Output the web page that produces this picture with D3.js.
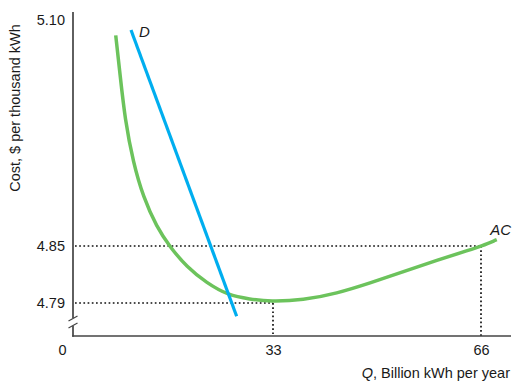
<!DOCTYPE html>
<html>
<head>
<meta charset="utf-8">
<script src="https://cdn.jsdelivr.net/npm/d3@7"></script>
<style>
  html, body { margin: 0; padding: 0; background: #fff; }
  svg { display: block; }
  text { font-family: "Liberation Sans", Arial, Helvetica, sans-serif; fill: #1a1a1a; }
</style>
</head>
<body>
<svg id="chart" width="523" height="391"></svg>
<script>
// ---- data ----
const yTicks = [4.79, 4.85, 5.10];
const yTickLabels = ["4.79", "4.85", "5.10"];
const xTicks = [0, 33, 66];
const xTickLabels = ["0", "33", "66"];

// Average cost curve AC (Q in billion kWh, cost in $ per thousand kWh)
const acQ    = [7.05, 7.76, 8.58, 9.95, 11.6, 13.81, 16.0, 18.76, 22.06, 25.62, 29.2, 32.5, 37.8, 43.1, 48.4, 53.7, 59.0, 64.25, 66.1, 68.5];
const acCost = [5.083, 5.040, 4.990, 4.942, 4.904, 4.871, 4.849, 4.828, 4.811, 4.798, 4.794, 4.7915, 4.793, 4.80, 4.811, 4.823, 4.835, 4.846, 4.85, 4.857];

// Demand curve D
const dQ    = [9.57, 27.0];
const dCost = [5.089, 4.776];

// reference lines
const minAC = { q: 33, cost: 4.79 };
const endAC = { q: 66, cost: 4.85 };

// ---- layout ----
const svg = d3.select("#chart");
const axisX0 = 73, axisYBottom = 336, axisYTop = 12, axisXRight = 511;

// schematic (broken) axes: piecewise linear scales
const x = d3.scaleLinear().domain(xTicks).range([73, 273, 481]);
const y = d3.scaleLinear().domain(yTicks).range([303, 246, 20]);

const axisColor = "#444";
const fontSize = "14.5px";

// dotted reference lines
const dotted = svg.append("g")
  .attr("stroke", "#111")
  .attr("stroke-width", 1.7)
  .attr("stroke-dasharray", "1.7 2.5")
  .attr("fill", "none");
dotted.append("line")
  .attr("x1", axisX0 + 2).attr("x2", x(endAC.q))
  .attr("y1", y(endAC.cost)).attr("y2", y(endAC.cost));
dotted.append("line")
  .attr("x1", axisX0 + 2).attr("x2", x(minAC.q))
  .attr("y1", y(minAC.cost)).attr("y2", y(minAC.cost));
dotted.append("line")
  .attr("x1", x(minAC.q)).attr("x2", x(minAC.q))
  .attr("y1", y(minAC.cost)).attr("y2", axisYBottom);
dotted.append("line")
  .attr("x1", x(endAC.q)).attr("x2", x(endAC.q))
  .attr("y1", y(endAC.cost)).attr("y2", axisYBottom);

// axes lines (with break on y)
const ax = svg.append("g").attr("stroke", axisColor).attr("stroke-width", 1.7).attr("fill", "none");
ax.append("line").attr("x1", axisX0).attr("x2", axisX0).attr("y1", axisYTop).attr("y2", 318);
ax.append("line").attr("x1", axisX0).attr("x2", axisX0).attr("y1", 326).attr("y2", axisYBottom + 0.8);
ax.append("line").attr("x1", axisX0 - 0.8).attr("x2", axisXRight).attr("y1", axisYBottom).attr("y2", axisYBottom);
// break marks
ax.append("line").attr("x1", 68.5).attr("x2", 77.5).attr("y1", 321).attr("y2", 316).attr("stroke-width", 1.2);
ax.append("line").attr("x1", 68.5).attr("x2", 77.5).attr("y1", 328).attr("y2", 323).attr("stroke-width", 1.2);

// y axis tick labels
const yAxis = d3.axisLeft(y)
  .tickValues(yTicks)
  .tickFormat((d, i) => yTickLabels[i])
  .tickSize(0)
  .tickPadding(8);
const gy = svg.append("g").attr("transform", `translate(${axisX0},0)`).call(yAxis)
  .attr("font-size", null).attr("font-family", null);
gy.select(".domain").remove();
gy.selectAll("text").style("font-size", fontSize).attr("fill", "#1a1a1a");

// x axis tick labels
const xAxis = d3.axisBottom(x)
  .tickValues(xTicks)
  .tickFormat((d, i) => xTickLabels[i])
  .tickSize(0)
  .tickPadding(9);
const gx = svg.append("g").attr("transform", `translate(0,${axisYBottom})`).call(xAxis)
  .attr("font-size", null).attr("font-family", null);
gx.select(".domain").remove();
gx.selectAll("text").style("font-size", fontSize).attr("fill", "#1a1a1a")
  .attr("dx", d => d === 0 ? -11 : 0);

// axis titles
svg.append("text")
  .attr("transform", "translate(20,108) rotate(-90)")
  .attr("text-anchor", "middle")
  .style("font-size", fontSize)
  .text("Cost, $ per thousand kWh");

const xt = svg.append("text")
  .attr("x", 510).attr("y", 378)
  .attr("text-anchor", "end")
  .style("font-size", fontSize);
xt.append("tspan").style("font-style", "italic").text("Q");
xt.append("tspan").text(", Billion kWh per year");

// curves
const line = d3.line().x(d => x(d[0])).y(d => y(d[1])).curve(d3.curveBasis);

svg.append("path")
  .datum(acQ.map((q, i) => [q, acCost[i]]))
  .attr("d", line)
  .attr("fill", "none")
  .attr("stroke", "#6cc35c")
  .attr("stroke-width", 3.5);

svg.append("path")
  .datum(dQ.map((q, i) => [q, dCost[i]]))
  .attr("d", d3.line().x(d => x(d[0])).y(d => y(d[1])))
  .attr("fill", "none")
  .attr("stroke", "#00aeef")
  .attr("stroke-width", 3.2);

// curve labels
svg.append("text")
  .attr("x", x(dQ[0]) + 8).attr("y", y(dCost[0]) + 7)
  .style("font-size", "15px").style("font-style", "italic")
  .text("D");
svg.append("text")
  .attr("x", 511).attr("y", 235)
  .attr("text-anchor", "end")
  .style("font-size", "15px").style("font-style", "italic")
  .text("AC");
</script>
</body>
</html>
